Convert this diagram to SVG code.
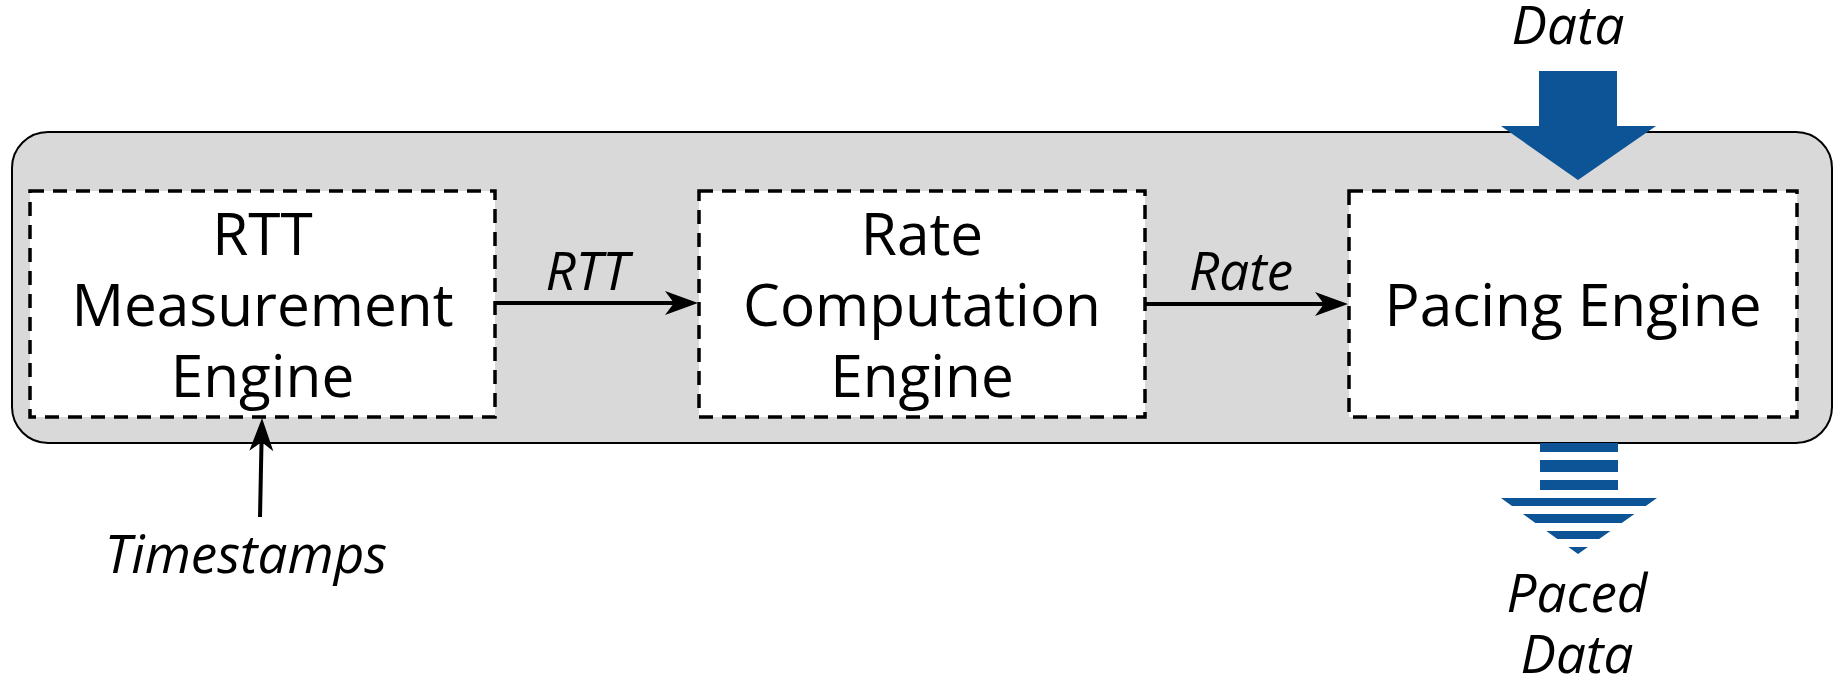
<svg xmlns="http://www.w3.org/2000/svg" width="1841" height="680" viewBox="0 0 1841 680">
<style>
.box{fill:#ffffff;stroke:#000;stroke-width:3.5;stroke-dasharray:14 9}
.t{font-family:"Open Sans","DejaVu Sans",sans-serif;font-size:58.5px;fill:#000;text-anchor:middle}
.it{font-family:"Open Sans","DejaVu Sans",sans-serif;font-size:53px;font-style:italic;fill:#000;text-anchor:middle}
.conn{stroke:#000;stroke-width:4;fill:none;marker-end:url(#ah)}
.blue{fill:#0c5496}
</style>
<defs>
<marker id="ah" viewBox="-34 -13 36 26" refX="-20" refY="0" markerWidth="36" markerHeight="26" markerUnits="userSpaceOnUse" orient="auto">
<path d="M0,0 L-33,-12 L-24,0 L-33,12 Z" fill="#000"/>
</marker>
<clipPath id="pacedClip">
<polygon points="1540,443 1618,443 1618,498 1657,498 1578,554 1501,498 1540,498"/>
</clipPath>
</defs>
<rect id="container" x="12" y="132" width="1820" height="311" rx="36" ry="36" fill="#d9d9d9" stroke="#000" stroke-width="2"/>
<g id="rtt-engine">
<rect class="box" x="30" y="191" width="465" height="226"/>
<text class="t" x="262.5" y="255">RTT</text>
<text class="t" x="262.5" y="326">Measurement</text>
<text class="t" x="262.5" y="397">Engine</text>
</g>
<g id="rate-engine">
<rect class="box" x="699" y="191" width="446" height="226"/>
<text class="t" x="922" y="255">Rate</text>
<text class="t" x="922" y="326">Computation</text>
<text class="t" x="922" y="397">Engine</text>
</g>
<g id="pacing-engine">
<rect class="box" x="1349" y="191" width="448" height="226"/>
<text class="t" x="1573" y="326">Pacing Engine</text>
</g>
<g id="data-in">
<polygon class="blue" points="1539,71 1617,71 1617,126 1656,126 1578,180 1501,126 1539,126"/>
<text class="it" x="1568" y="44">Data</text>
</g>
<g id="paced-data-out">
<g clip-path="url(#pacedClip)" class="blue">
<rect x="1495" y="443" width="170" height="9"/>
<rect x="1495" y="460" width="170" height="12"/>
<rect x="1495" y="480" width="170" height="10"/>
<rect x="1495" y="498" width="170" height="8"/>
<rect x="1495" y="514" width="170" height="9"/>
<rect x="1495" y="531" width="170" height="8"/>
<rect x="1495" y="547" width="170" height="8"/>
</g>
<text class="it" x="1577" y="612">Paced</text>
<text class="it" x="1577" y="673">Data</text>
</g>
<g id="timestamps">
<text class="it" x="246" y="573">Timestamps</text>
</g>
<g id="connectors">
<line class="conn" x1="495" y1="303" x2="678" y2="303"/>
<line class="conn" x1="1145" y1="304" x2="1328" y2="304"/>
<line class="conn" x1="260" y1="517" x2="261.6" y2="438"/>
<text class="it" x="587" y="290">RTT</text>
<text class="it" x="1241" y="290">Rate</text>
</g>
</svg>
